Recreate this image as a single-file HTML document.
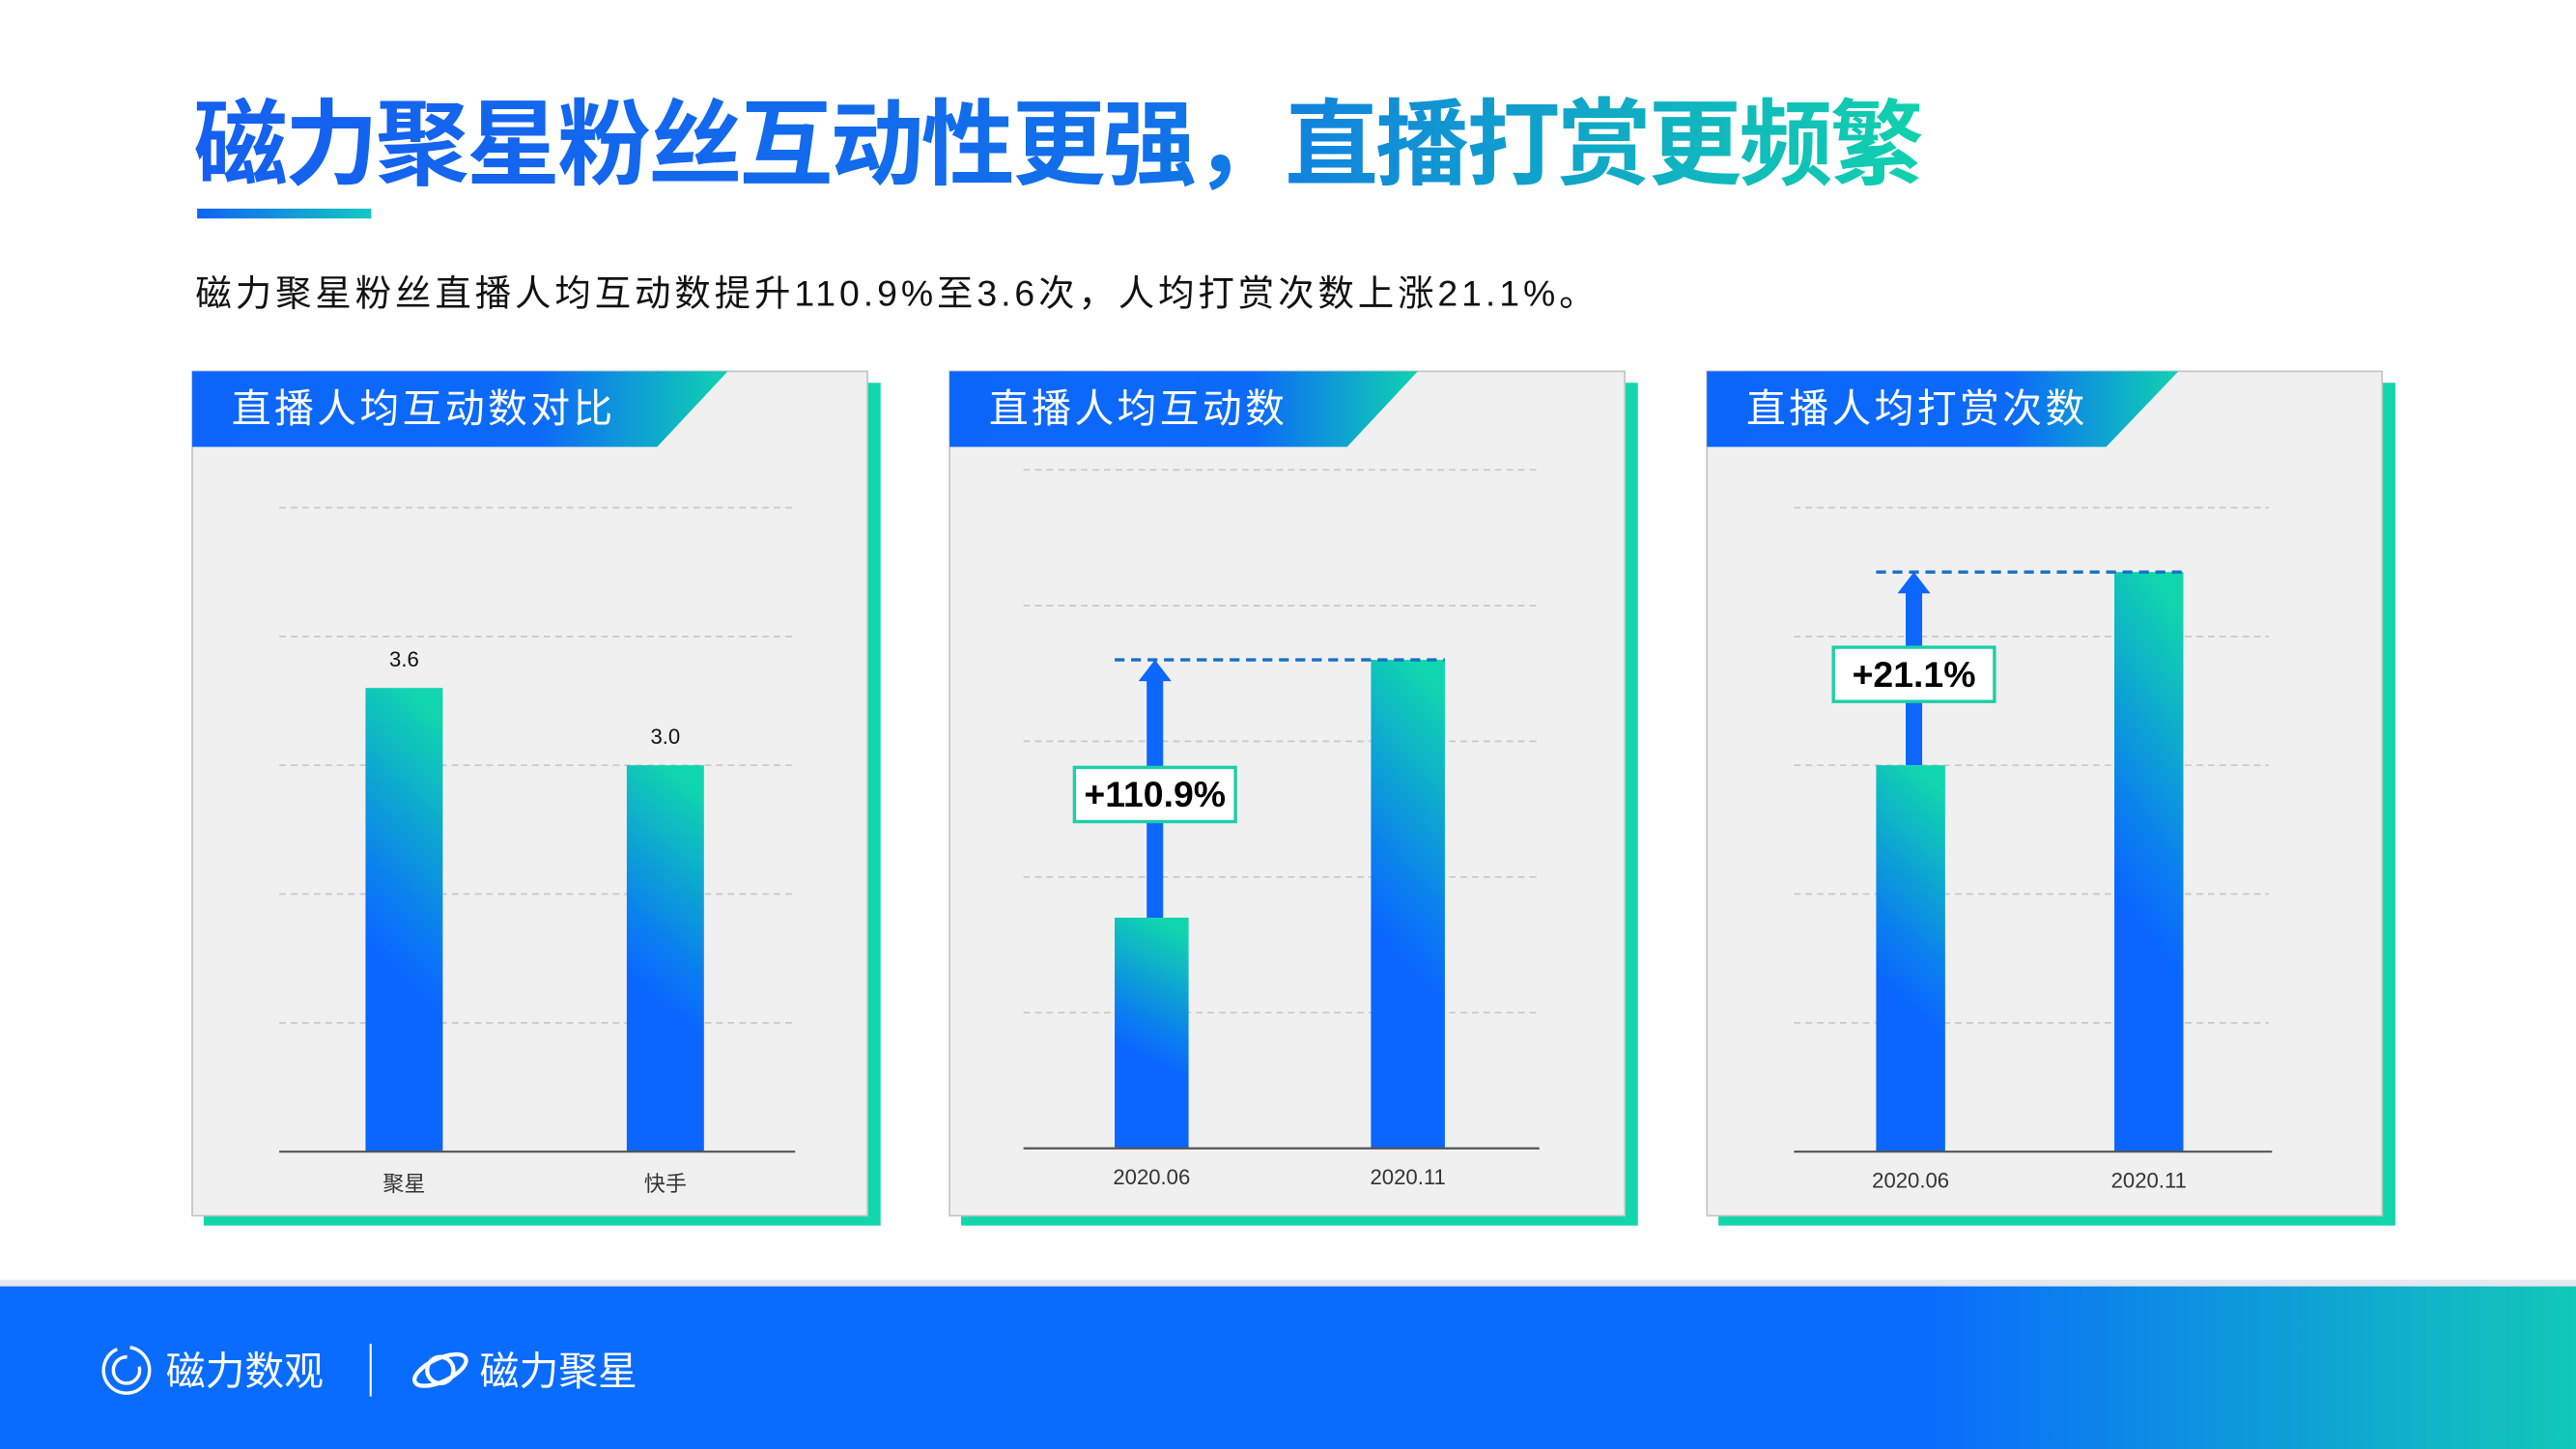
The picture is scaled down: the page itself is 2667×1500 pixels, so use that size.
<!DOCTYPE html>
<html><head><meta charset="utf-8"><style>
html,body{margin:0;padding:0;background:#fff;}
svg{display:block;}
text{font-family:"Liberation Sans","Noto Sans CJK SC",sans-serif;}
</style></head><body>
<svg id="s" width="2667" height="1500" viewBox="0 0 1568 882" preserveAspectRatio="none" xmlns="http://www.w3.org/2000/svg">
<defs>
<linearGradient id="tg" x1="0" y1="0" x2="1" y2="0"><stop offset="0" stop-color="#1560f0"/><stop offset="0.55" stop-color="#1170ea"/><stop offset="1" stop-color="#10d2ad"/></linearGradient>
<linearGradient id="ul" x1="0" y1="0" x2="1" y2="0"><stop offset="0" stop-color="#0f64f5"/><stop offset="1" stop-color="#14c8c0"/></linearGradient>
<linearGradient id="hg" x1="0" y1="0" x2="1" y2="0"><stop offset="0" stop-color="#0c66fb"/><stop offset="0.65" stop-color="#0c6af8"/><stop offset="1" stop-color="#10d2b0"/></linearGradient>
<linearGradient id="bg" x1="0.45" y1="0.62" x2="0.55" y2="0"><stop offset="0" stop-color="#0a66ff"/><stop offset="0.25" stop-color="#0a7ef0"/><stop offset="1" stop-color="#10d6ae"/></linearGradient>
<linearGradient id="fg" x1="0" y1="0" x2="1" y2="0"><stop offset="0" stop-color="#0a6cff"/><stop offset="0.75" stop-color="#0a6cfc"/><stop offset="1" stop-color="#12c8b8"/></linearGradient>
</defs>
<text x="118" y="108" font-size="57" font-weight="bold" fill="url(#tg)" textLength="1053">磁力聚星粉丝互动性更强，直播打赏更频繁</text>
<rect x="120" y="127" width="106" height="6" fill="url(#ul)"/>
<text x="119" y="186" font-size="22" fill="#111" textLength="852">磁力聚星粉丝直播人均互动数提升110.9%至3.6次，人均打赏次数上涨21.1%。</text>
<g id="charts"></g>
<rect x="0" y="779" width="1568" height="4" fill="#e4e8ef"/>
<rect x="0" y="783" width="1568" height="99" fill="url(#fg)"/>
<g>
<circle cx="77" cy="834" r="14" fill="none" stroke="#fff" stroke-width="2" stroke-dasharray="60 8"/>
<circle cx="77" cy="834" r="8" fill="none" stroke="#fff" stroke-width="2" stroke-dasharray="38 10"/>
<text x="101" y="843" font-size="24" fill="#fff">磁力数观</text>
</g>
<rect x="225" y="818" width="1.2" height="32" fill="#fff"/>
<g>
<ellipse cx="268" cy="834" rx="17" ry="7" fill="none" stroke="#fff" stroke-width="2.5" transform="rotate(-25 268 834)"/>
<circle cx="268" cy="834" r="8" fill="none" stroke="#fff" stroke-width="2.5"/>
<text x="292" y="843" font-size="24" fill="#fff">磁力聚星</text>
</g>
</svg>
<script>
// chart 1
const c1Categories = ['聚星', '快手'];
const c1Values = [3.6, 3.0];
const c1Labels = ['3.6', '3.0'];
// chart 2
const c2Categories = ['2020.06', '2020.11'];
const c2Values = [1.7, 3.6];
const c2Growth = '+110.9%';
// chart 3
const c3Categories = ['2020.06', '2020.11'];
const c3Values = [3.0, 4.5];
const c3Growth = '+21.1%';
const gridTicks = [1, 2, 3, 4, 5];

const NS = 'http://www.w3.org/2000/svg';
const root = document.getElementById('charts');
function mk(tag, attrs, parent, text) {
  const e = document.createElementNS(NS, tag);
  for (const k in attrs) e.setAttribute(k, attrs[k]);
  if (text !== undefined) e.textContent = text;
  (parent || root).appendChild(e);
  return e;
}
const panels = [
  {x:117, title:'直播人均互动数对比', slantTop:443, slantBot:400, x0:170, x1:482, base:701, unit:78.4, centers:[246,405], bw:47, cats:c1Categories, vals:c1Values, labels:c1Labels, labY:721},
  {x:578, title:'直播人均互动数', slantTop:863, slantBot:820, x0:623, x1:935, base:699, unit:82.6, centers:[701,857], bw:45, cats:c2Categories, vals:c2Values, growth:c2Growth, labY:717},
  {x:1039, title:'直播人均打赏次数', slantTop:1326, slantBot:1282, x0:1092, x1:1381, base:701, unit:78.4, centers:[1163,1308], bw:42, cats:c3Categories, vals:c3Values, growth:c3Growth, labY:719}
];
panels.forEach((p, pi) => {
  const g = mk('g', {});
  
  
  const sh = mk('rect', {x:p.x + 7, y:233, width:412, height:513, fill:'#12d6ac'}, g);
  
  
  const bgr = mk('rect', {x:p.x, y:226, width:411, height:514, fill:'#f0f0f0', stroke:'#c4c4c4', 'stroke-width':1}, g);
  
  
  const hd = mk('polygon', {points:`${p.x},226 ${p.slantTop},226 ${p.slantBot},272 ${p.x},272`, fill:'url(#hg)'}, g);
  
  
  const ht = mk('text', {x:p.x + 24, y:257, 'font-size':24, fill:'#fff', 'letter-spacing':2}, g, p.title);
  
  
  const yS = v => p.base - v * p.unit;
  gridTicks.forEach(t => {
    const gl = mk('line', {x1:p.x0, x2:p.x1, y1:yS(t), y2:yS(t), stroke:'#c8c8c8', 'stroke-width':1, 'stroke-dasharray':'4 3'}, g);
    
    
  });
  p.vals.forEach((v, i) => {
    const b = mk('rect', {x:p.centers[i] - p.bw / 2, y:yS(v), width:p.bw, height:v * p.unit, fill:'url(#bg)'}, g);
    
    
    const xl = mk('text', {x:p.centers[i], y:p.labY + 4, 'font-size':13, fill:'#333', 'text-anchor':'middle'}, g, p.cats[i]);
    
    
    if (p.labels) {
      const vl = mk('text', {x:p.centers[i], y:yS(v) - 13, 'font-size':13, fill:'#111', 'text-anchor':'middle'}, g, p.labels[i]);
      
      
    }
  });
  const ax = mk('line', {x1:p.x0, x2:p.x1 + 2, y1:p.base, y2:p.base, stroke:'#555', 'stroke-width':1.3}, g);
  
  
  if (p.growth) {
    const yA = yS(p.vals[0]), yB = yS(p.vals[1]);
    const cx = p.centers[0] + 2;
    const dl = mk('line', {x1:p.centers[0] - p.bw / 2, x2:p.centers[1] + p.bw / 2, y1:yB, y2:yB, stroke:'#1670c8', 'stroke-width':2, 'stroke-dasharray':'6 4'}, g);
    
    
    const ar = mk('polygon', {points:`${cx-5},${yA} ${cx+5},${yA} ${cx+5},${yB+13} ${cx+10},${yB+13} ${cx},${yB} ${cx-10},${yB+13} ${cx-5},${yB+13}`, fill:'#0d66ff'}, g);
    
    
    const my = (yA + yB) / 2 + 3;
    const bx = mk('rect', {x:cx - 49, y:my - 16, width:98, height:33, fill:'#fff', stroke:'#1dcfa6', 'stroke-width':2}, g);
    
    
    const gt = mk('text', {x:cx, y:my + 8, 'font-size':22, 'font-weight':'bold', fill:'#000', 'text-anchor':'middle', 'font-family':'"Liberation Sans Narrow","Liberation Sans",sans-serif'}, g, p.growth);
    
    
  }
});
</script>
</body></html>
